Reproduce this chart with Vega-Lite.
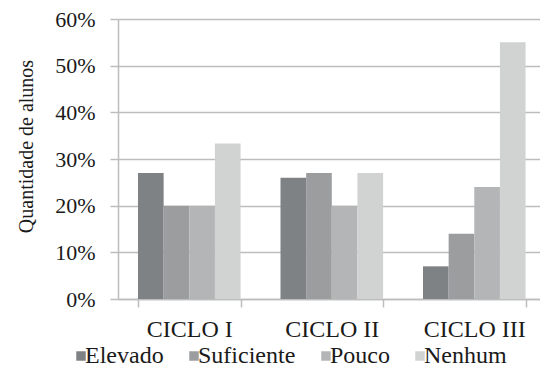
{
  "$schema": "https://vega.github.io/schema/vega-lite/v6.json",
  "width": 422,
  "height": 280,
  "autosize": {"type": "none"},
  "padding": {"left": 118, "top": 19, "right": 0, "bottom": 68},
  "background": "white",
  "config": {
    "view": {"stroke": null},
    "font": "Liberation Serif",
    "axis": {"labelFont": "Liberation Serif", "titleFont": "Liberation Serif"},
    "legend": {"labelFont": "Liberation Serif"}
  },
  "data": {
    "values": [
      {"ciclo": "CICLO I", "nivel": "Elevado", "valor": 0.27},
      {"ciclo": "CICLO I", "nivel": "Suficiente", "valor": 0.20},
      {"ciclo": "CICLO I", "nivel": "Pouco", "valor": 0.20},
      {"ciclo": "CICLO I", "nivel": "Nenhum", "valor": 0.333},
      {"ciclo": "CICLO II", "nivel": "Elevado", "valor": 0.26},
      {"ciclo": "CICLO II", "nivel": "Suficiente", "valor": 0.27},
      {"ciclo": "CICLO II", "nivel": "Pouco", "valor": 0.20},
      {"ciclo": "CICLO II", "nivel": "Nenhum", "valor": 0.27},
      {"ciclo": "CICLO III", "nivel": "Elevado", "valor": 0.07},
      {"ciclo": "CICLO III", "nivel": "Suficiente", "valor": 0.14},
      {"ciclo": "CICLO III", "nivel": "Pouco", "valor": 0.24},
      {"ciclo": "CICLO III", "nivel": "Nenhum", "valor": 0.55}
    ]
  },
  "mark": {"type": "bar"},
  "encoding": {
    "x": {
      "field": "ciclo",
      "type": "nominal",
      "sort": ["CICLO I", "CICLO II", "CICLO III"],
      "scale": {"paddingInner": 0.28, "paddingOuter": 0.1207, "align": 0.581},
      "axis": {
        "title": null,
        "labelAngle": 0,
        "labelFontSize": 24,
        "labelColor": "#1a1a1a",
        "labelPadding": 10,
        "tickBand": "extent",
        "tickSize": 8,
        "tickColor": "#bdbdbd",
        "tickWidth": 1.5,
        "domainColor": "#bdbdbd",
        "domainWidth": 1.5
      }
    },
    "xOffset": {
      "field": "nivel",
      "type": "nominal",
      "sort": ["Elevado", "Suficiente", "Pouco", "Nenhum"],
      "scale": {"paddingInner": 0, "paddingOuter": 0}
    },
    "y": {
      "field": "valor",
      "type": "quantitative",
      "scale": {"domain": [0, 0.6], "nice": false},
      "axis": {
        "values": [0, 0.1, 0.2, 0.3, 0.4, 0.5, 0.6],
        "format": ".0%",
        "grid": true,
        "gridColor": "#bdbdbd",
        "gridWidth": 1.5,
        "domainColor": "#bdbdbd",
        "domainWidth": 1.5,
        "tickColor": "#bdbdbd",
        "tickWidth": 1.5,
        "tickSize": 8,
        "labelFontSize": 22,
        "labelColor": "#1a1a1a",
        "labelPadding": 15,
        "title": "Quantidade de alunos",
        "titleFontSize": 20,
        "titleFontWeight": "normal",
        "titleColor": "#1a1a1a",
        "titleAngle": -90,
        "titleAlign": "center",
        "titleBaseline": "alphabetic",
        "titleX": -86,
        "titleY": 127
      }
    },
    "color": {
      "field": "nivel",
      "type": "nominal",
      "sort": ["Elevado", "Suficiente", "Pouco", "Nenhum"],
      "scale": {
        "domain": ["Elevado", "Suficiente", "Pouco", "Nenhum"],
        "range": ["#7f8284", "#9b9d9f", "#b3b5b6", "#d1d2d2"]
      },
      "legend": {
        "title": null,
        "orient": "none",
        "direction": "horizontal",
        "legendX": -49,
        "legendY": 325,
        "symbolType": "square",
        "symbolSize": 90,
        "symbolStrokeWidth": 0,
        "labelFontSize": 24,
        "labelColor": "#1a1a1a",
        "labelOffset": -8,
        "columnPadding": 18
      }
    }
  }
}
